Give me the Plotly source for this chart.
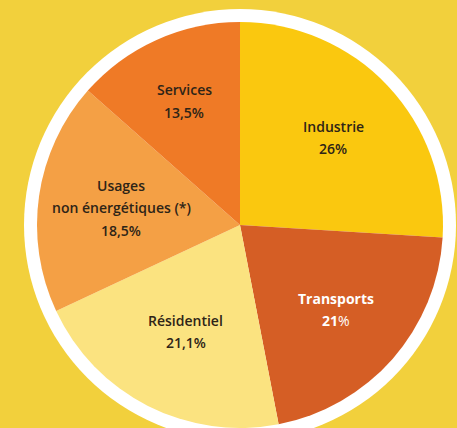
import math
import plotly.graph_objects as go

# Data
categories = ["Industrie", "Transports", "Résidentiel", "Usages<br>non énergétiques (*)", "Services"]
values = [26, 21, 21.1, 18.5, 13.5]
value_labels = ["26%", "21%", "21,1%", "18,5%", "13,5%"]

# Styling
colors = ["#FAC80F", "#D55E25", "#FBE380", "#F4A045", "#EF7A26"]
text_colors = ["#2e2417", "#FFFFFF", "#2e2417", "#2e2417", "#2e2417"]
label_radius = [0.63, 0.63, 0.59, 0.59, 0.67]
bg = "#F2D03C"

W, H = 457, 428
cx, cy = 240, 225  # pixel center (from top)
R = 203
ring = 216

fig = go.Figure()
fig.add_trace(go.Pie(
    labels=[c.replace("<br>", " ") for c in categories],
    values=values,
    sort=False,
    direction="clockwise",
    rotation=0,
    marker=dict(colors=colors, line=dict(width=0)),
    textinfo="none",
    hoverinfo="skip",
    showlegend=False,
    domain=dict(x=[(cx - R) / W, (cx + R) / W], y=[(H - cy - R) / H, (H - cy + R) / H]),
))

# white ring behind the pie
fig.add_shape(type="circle", xref="paper", yref="paper", layer="below",
              x0=(cx - ring) / W, x1=(cx + ring) / W,
              y0=(H - cy - ring) / H, y1=(H - cy + ring) / H,
              fillcolor="white", line=dict(width=0))

total = sum(values)
cum = 0
annotations = []
for i, (cat, v, vl) in enumerate(zip(categories, values, value_labels)):
    mid = (cum + v / 2) / total * 2 * math.pi
    cum += v
    r = label_radius[i] * R
    px = cx + r * math.sin(mid)
    py = cy - r * math.cos(mid)
    xp = px / W
    yp = (H - py) / H
    lines = cat.split("<br>")
    n = len(lines) + 1
    fc = text_colors[i]
    if fc == "#FFFFFF":
        num = vl.rstrip("%")
        val_text = f"<b>{num}</b>%"
        lines = [f"<b>{l}</b>" for l in lines]
    else:
        val_text = vl
    all_lines = lines + [val_text]
    for j, t in enumerate(all_lines):
        shift = ((n - 1) / 2 - j) * 22.5
        annotations.append(dict(
            x=xp, y=yp, xref="paper", yref="paper", text=t, showarrow=False,
            yshift=shift, xanchor="center", yanchor="middle",
            font=dict(family="Open Sans", size=14, color=fc, weight=600 if fc != "#FFFFFF" else 400),
        ))

fig.update_layout(
    width=W, height=H,
    margin=dict(l=0, r=0, t=0, b=0),
    paper_bgcolor=bg, plot_bgcolor=bg,
    annotations=annotations,
)

fig.write_html(
    "out.html",
    config={"displayModeBar": False},
    post_script="document.body.style.margin='0';document.body.style.overflow='hidden';document.body.style.background='" + bg + "';",
)
